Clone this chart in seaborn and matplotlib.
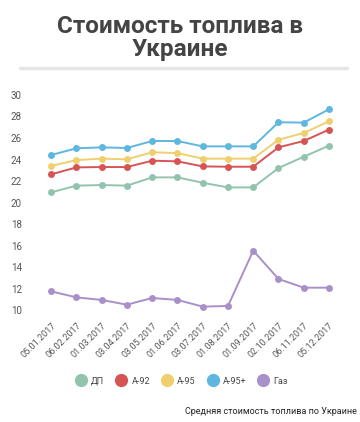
import pandas as pd
import numpy as np
import matplotlib
matplotlib.use("Agg")
import matplotlib.pyplot as plt
from matplotlib.lines import Line2D
import seaborn as sns

# data
dates = ['05.01.2017', '06.02.2017', '01.03.2017', '03.04.2017', '03.05.2017', '01.06.2017',
         '03.07.2017', '01.08.2017', '01.09.2017', '02.10.2017', '06.11.2017', '05.12.2017']
dp = [20.95, 21.57, 21.63, 21.57, 22.34, 22.34, 21.84, 21.41, 21.41, 23.21, 24.26, 25.29]
a92 = [22.62, 23.27, 23.30, 23.30, 23.89, 23.83, 23.36, 23.33, 23.33, 25.13, 25.72, 26.78]
a95 = [23.40, 23.95, 24.08, 24.02, 24.67, 24.60, 24.08, 24.08, 24.08, 25.84, 26.47, 27.55]
a95p = [24.42, 25.04, 25.13, 25.07, 25.72, 25.72, 25.22, 25.22, 25.22, 27.46, 27.43, 28.67]
gas = [11.75, 11.19, 10.95, 10.51, 11.13, 10.95, 10.33, 10.39, 15.53, 12.90, 12.09, 12.09]

series = ['ДП', 'А-92', 'А-95', 'А-95+', 'Газ']
colors = ['#92c4ad', '#d65454', '#f0cf6e', '#5fb6df', '#a890c8']

df = pd.DataFrame({
    'x': list(range(len(dates))) * 5,
    'value': dp + a92 + a95 + a95p + gas,
    'fuel': [s for s in series for _ in dates],
})

sns.set_theme(style='white')
plt.rcParams['font.family'] = ['Roboto', 'DejaVu Sans']
text_col = '#444444'

fig = plt.figure(figsize=(3.6, 4.22), dpi=100)
ax = fig.add_axes([0.107, 0.265, 0.842, 0.51])

sns.lineplot(data=df, x='x', y='value', hue='fuel', palette=colors, hue_order=series,
             marker='o', markersize=5, markeredgewidth=0, linewidth=1.4, legend=False, ax=ax)

ax.set_xlim(-0.5, len(dates) - 0.5)
ax.set_ylim(10, 30)
ax.set_yticks(np.arange(10, 31, 2))
ax.set_xticks(range(len(dates)))
ax.set_xticklabels(dates, rotation=45, ha='right', rotation_mode='anchor', fontsize=6.5, color='#555555')
ax.tick_params(axis='y', labelsize=7, colors='#555555', pad=6)
ax.tick_params(axis='x', pad=2)
ax.set_xlabel('')
ax.set_ylabel('')
for s in ax.spines.values():
    s.set_visible(False)

# title and separator
fig.text(0.5, 0.965, 'Стоимость топлива в\nУкраине', ha='center', va='top',
         fontsize=17.5, fontweight='bold', color=text_col, linespacing=1.0)
fig.add_artist(Line2D([0.055, 0.965], [0.838, 0.838], color='#e6e6e6', linewidth=2.5))

handles = [Line2D([], [], marker='o', linestyle='', markersize=8.5, color=c) for c in colors]
fig.legend(handles, series, loc='center', bbox_to_anchor=(0.5, 0.097), ncol=5, frameon=False,
           fontsize=6.5, handletextpad=0.1, columnspacing=0.9, labelcolor=text_col)

fig.text(0.99, 0.026, 'Средняя стоимость топлива по Украине', ha='right', va='center',
         fontsize=6.5, color='#222222')

fig.savefig('out.png', dpi=100)
